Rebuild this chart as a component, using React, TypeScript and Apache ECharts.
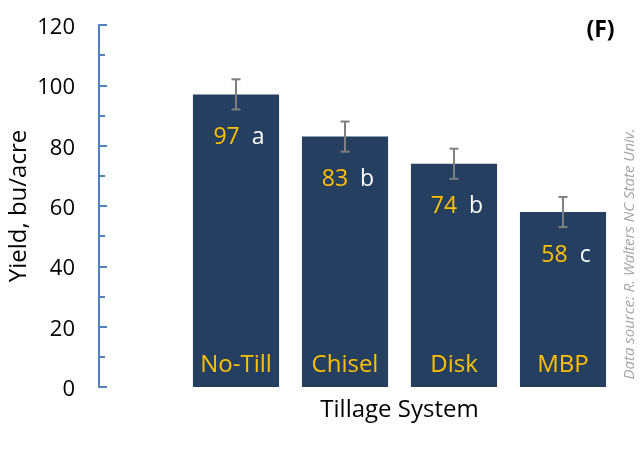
import React, { useEffect, useRef } from "react";
import * as echarts from "echarts";

const categories = ["No-Till", "Chisel", "Disk", "MBP"];
const yields = [97, 83, 74, 58];
const errors = [5, 5, 5, 5];
const letters = ["a", "b", "b", "c"];

const FONT = "'Open Sans', 'Noto Sans', sans-serif";
const BAR = "#243f60";
const GOLD = "#ffc000";

export default function App() {
  const ref = useRef<HTMLDivElement>(null);
  useEffect(() => {
    const chart = echarts.init(ref.current!, null, { renderer: "svg" });
    chart.setOption({
      animation: false,
      textStyle: { fontFamily: FONT },
      grid: { left: 181.5, right: 24.5, top: 25, bottom: 62, outerBoundsMode: "none", containLabel: false },
      xAxis: {
        type: "category",
        data: categories,
        name: "Tillage System",
        nameLocation: "middle",
        nameGap: 8,
        nameTextStyle: { fontSize: 24, color: "#000", fontFamily: FONT, verticalAlign: "top" },
        axisLine: { show: false },
        axisTick: { show: false },
        axisLabel: { show: false },
      },
      yAxis: {
        type: "value",
        min: 0,
        max: 120,
        interval: 20,
        offset: 82.5,
        axisLine: { show: true, lineStyle: { color: "#4f81bd", width: 2 } },
        axisTick: { show: true, inside: true, length: 8, lineStyle: { color: "#4f81bd", width: 2 } },
        minorTick: { show: true, splitNumber: 2, length: 6, lineStyle: { color: "#4f81bd", width: 2 } },
        splitLine: { show: false },
        axisLabel: { margin: 24, color: "#000", fontSize: 22, fontFamily: FONT },
      },
      series: [
        {
          type: "bar",
          data: yields,
          barCategoryGap: "21%",
          itemStyle: { color: BAR },
          label: {
            show: true,
            position: "insideTop",
            distance: 29,
            formatter: (p: any) => `{v|${p.value}}{l|${letters[p.dataIndex]}}`,
            rich: {
              v: { color: GOLD, fontSize: 23, fontFamily: FONT, padding: [0, 0, 0, 6] },
              l: { color: "#fff", fontSize: 23, fontFamily: FONT, padding: [0, 0, 0, 12] },
            },
          },
        },
        {
          type: "custom",
          data: yields.map((v, i) => [i, v, errors[i]]),
          z: 10,
          renderItem: (params: any, api: any) => {
            const i = api.value(0);
            const v = api.value(1);
            const e = api.value(2);
            const hi = api.coord([i, v + e]);
            const lo = api.coord([i, v - e]);
            const w = 4.5;
            const style = { stroke: "#7f7f7f", lineWidth: 2 };
            return {
              type: "group",
              children: [
                { type: "line", shape: { x1: hi[0], y1: hi[1], x2: lo[0], y2: lo[1] }, style },
                { type: "line", shape: { x1: hi[0] - w, y1: hi[1], x2: hi[0] + w, y2: hi[1] }, style },
                { type: "line", shape: { x1: lo[0] - w, y1: lo[1], x2: lo[0] + w, y2: lo[1] }, style },
              ],
            };
          },
        },
        {
          type: "custom",
          data: categories.map((c, i) => [i, 0]),
          z: 11,
          renderItem: (params: any, api: any) => {
            const i = api.value(0);
            const p = api.coord([i, 0]);
            return {
              type: "text",
              x: p[0],
              y: p[1] - 25,
              style: {
                text: categories[i],
                fill: GOLD,
                font: `24px ${FONT}`,
                align: "center",
                verticalAlign: "middle",
              },
            };
          },
        },
      ],
      graphic: [
        {
          type: "text",
          x: 16,
          y: 206,
          rotation: Math.PI / 2,
          style: {
            text: "Yield, bu/acre",
            fill: "#000",
            font: `24px ${FONT}`,
            align: "center",
            verticalAlign: "middle",
          },
        },
        {
          type: "text",
          x: 600.5,
          y: 27.5,
          style: {
            text: "(F)",
            fill: "#000",
            font: `bold 23px ${FONT}`,
            align: "center",
            verticalAlign: "middle",
          },
        },
        {
          type: "text",
          x: 628,
          y: 254,
          rotation: Math.PI / 2,
          style: {
            text: "Data source: R. Walters NC State Univ.",
            fill: "#a6a6a6",
            font: `italic 15px ${FONT}`,
            align: "center",
            verticalAlign: "middle",
          },
        },
      ],
    });
    return () => chart.dispose();
  }, []);
  return <div ref={ref} style={{ position: "fixed", left: 0, top: 0, width: 642, height: 449 }} />;
}
